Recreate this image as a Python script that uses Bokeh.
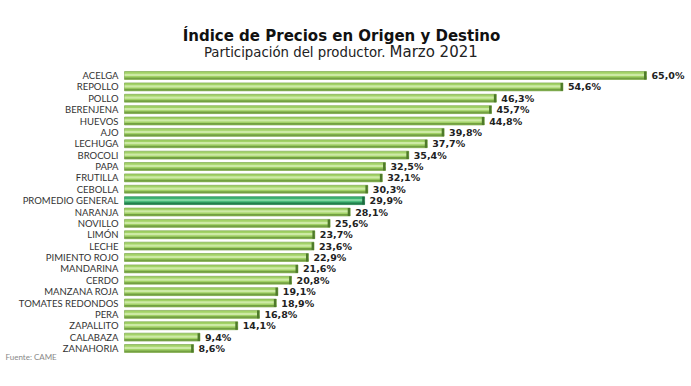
from bokeh.plotting import figure
from bokeh.models import ColumnDataSource, Range1d, Label
from bokeh.core.properties import value
from bokeh.transform import dodge
from bokeh.embed import file_html
from bokeh.resources import INLINE

categories = ["ACELGA", "REPOLLO", "POLLO", "BERENJENA", "HUEVOS", "AJO", "LECHUGA",
              "BROCOLI", "PAPA", "FRUTILLA", "CEBOLLA", "PROMEDIO GENERAL", "NARANJA",
              "NOVILLO", "LIMÓN", "LECHE", "PIMIENTO ROJO", "MANDARINA", "CERDO",
              "MANZANA ROJA", "TOMATES REDONDOS", "PERA", "ZAPALLITO", "CALABAZA", "ZANAHORIA"]
values = [65.0, 54.6, 46.3, 45.7, 44.8, 39.8, 37.7, 35.4, 32.5, 32.1, 30.3, 29.9, 28.1,
          25.6, 23.7, 23.6, 22.9, 21.6, 20.8, 19.1, 18.9, 16.8, 14.1, 9.4, 8.6]
highlight = "PROMEDIO GENERAL"

W, H = 691, 386
px_per_unit = 8.03
x0_px = 124
row_px = 11.375
row0_px = 75

idx = list(range(len(categories)))
is_hl = [c == highlight for c in categories]
src = ColumnDataSource(dict(
    y=idx,
    v=values,
    cat=categories,
    lab=[("%.1f%%" % v).replace(".", ",") for v in values],
    base=["#3db372" if h else "#a2d267" for h in is_hl],
    top=["#7fd6a0" if h else "#cdeaa5" for h in is_hl],
    dark=["#22804c" if h else "#73a042" for h in is_hl],
    cap=["#1d6b40" if h else "#4e7a2a" for h in is_hl],
))

p = figure(width=W, height=H, output_backend="svg", toolbar_location=None,
           x_range=Range1d(-x0_px / px_per_unit, (W - x0_px) / px_per_unit),
           y_range=Range1d((H - row0_px) / row_px, -row0_px / row_px),
           min_border=0, min_border_left=0, min_border_right=0,
           min_border_top=0, min_border_bottom=0)
p.axis.visible = False
p.grid.visible = False
p.outline_line_color = None
p.background_fill_color = "white"

bh = 0.7
p.hbar(y="y", left=0, right="v", height=bh, source=src, fill_color="base", line_color="dark", line_width=0.6)
p.hbar(y=dodge("y", -0.05, range=p.y_range), left=0, right="v", height=0.2, source=src,
       fill_color="top", line_color=None)
p.hbar(y=dodge("y", 0.25, range=p.y_range), left=0, right="v", height=0.16, source=src,
       fill_color="dark", line_color=None)
p.hbar(y="y", left=dodge("v", -0.3), right="v", height=bh, source=src, fill_color="cap", line_color=None)

p.text(x=-6 / px_per_unit, y="y", text="cat", source=src, text_align="right", text_baseline="middle",
       text_font=value("Lato"), text_font_size="9.5px", text_color="#333333")
p.text(x=dodge("v", 5 / px_per_unit), y="y", text="lab", source=src, text_align="left",
       text_baseline="middle", text_font=value("DejaVu Sans"), text_font_size="9.5px",
       text_font_style="bold", text_color="#222222")

p.add_layout(Label(x=341, y=H - 35, x_units="screen", y_units="screen",
                   text="Índice de Precios en Origen y Destino", text_align="center",
                   text_baseline="middle", text_font="DejaVu Sans", text_font_style="bold",
                   text_font_size="15px", text_color="#111111"))
p.add_layout(Label(x=385, y=H - 52, x_units="screen", y_units="screen",
                   text="Participación del productor.", text_align="right",
                   text_baseline="middle", text_font="DejaVu Sans",
                   text_font_size="13.3px", text_color="#222222"))
p.add_layout(Label(x=389, y=H - 51, x_units="screen", y_units="screen",
                   text="Marzo 2021", text_align="left",
                   text_baseline="middle", text_font="DejaVu Sans",
                   text_font_size="15px", text_color="#222222"))
p.add_layout(Label(x=5, y=H - 356, x_units="screen", y_units="screen",
                   text="Fuente: CAME", text_align="left",
                   text_baseline="middle", text_font="Lato",
                   text_font_size="8px", text_color="#888888"))

open("out.html", "w").write(file_html(p, INLINE))
